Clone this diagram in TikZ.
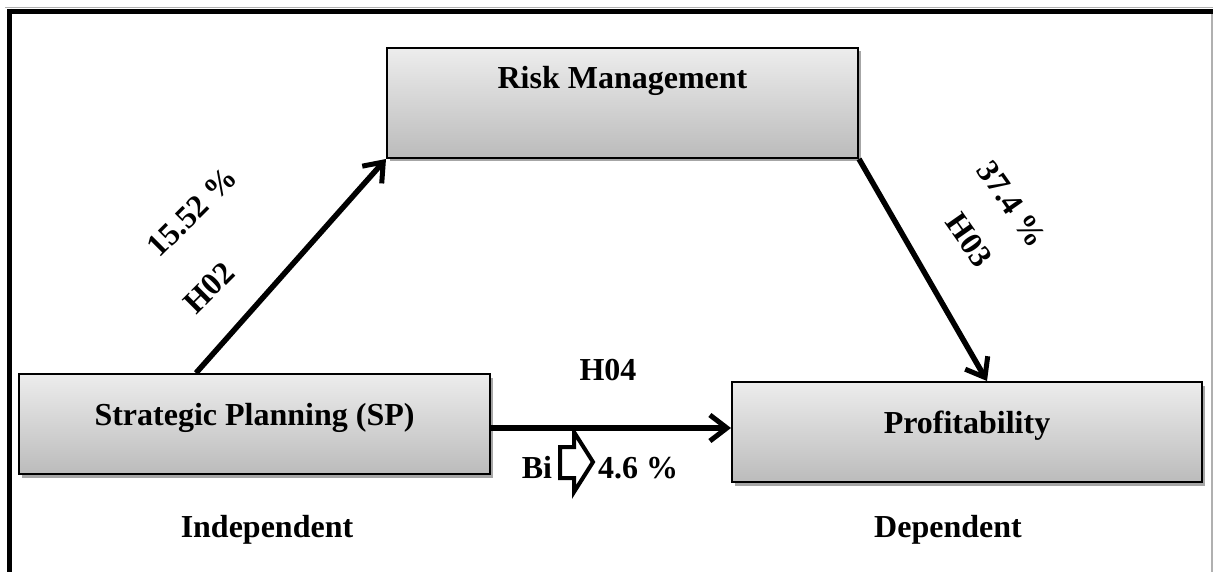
\documentclass[tikz,border=0pt]{standalone}
\usepackage{fontspec}
\setmainfont{Liberation Serif}
\usetikzlibrary{arrows.meta,shadows,calc}
\definecolor{boxtop}{HTML}{EDEDED}
\definecolor{boxbot}{HTML}{BBBBBB}
\definecolor{framegray}{HTML}{B0B0B0}
\newcommand{\bigfont}{\fontsize{32}{38}\selectfont\bfseries}
\begin{document}
\begin{tikzpicture}[x=1pt,y=-1pt,
  box/.style={draw=black, line width=2pt, rectangle, top color=boxtop, bottom color=boxbot,
    drop shadow={shadow xshift=3pt, shadow yshift=-3.5pt, opacity=0.35, fill=black},
    font=\bigfont, inner sep=0pt, text height=20pt},
  lbl/.style={font=\bigfont, inner sep=0pt},
  link/.style={line width=5.5pt, -{Straight Barb[length=17pt,width=26pt,line width=5pt]}}
]
\useasboundingbox (0,0) rectangle (1213,572);
% frame
\draw[framegray, line width=1pt] (5,7.8) -- (1213,7.8);
\draw[framegray, line width=1.5pt] (1212,14) -- (1212,572);
\draw[black, line width=5.5pt] (7,11.5) -- (1213,11.5);
\draw[black, line width=4.5pt] (9.3,9) -- (9.3,572);
% boxes
\node[box, minimum width=471pt, minimum height=110pt, text depth=48pt] (rm) at (622.5,103) {Risk Management};
\node[box, minimum width=471pt, minimum height=100pt, text depth=18pt] (sp) at (254.5,424) {Strategic Planning (SP)};
\node[box, minimum width=470pt, minimum height=100pt, text depth=18pt] (prof) at (967,432) {Profitability};
% connectors
\draw[link] ($(sp.north west)+(178,0)$) -- (rm.south west);
\draw[link] (rm.south east) -- ($(prof.north west)+(256,0)$);
\coordinate (h04start) at ($(sp.east)+(0,4)$);
\draw[link] (h04start) -- (h04start -| prof.west);
% block arrow symbol
\draw[line width=4pt, line join=miter] (560,447) -- (574,447) -- (574,432) -- (593,462) -- (574,492) -- (574,478) -- (560,478) -- cycle;
% labels
\node[lbl, anchor=base] (h04) at (608,380) {H04};
\node[lbl, anchor=base] (bi) at (537,478) {Bi};
\node[lbl, anchor=base] (pct46) at (638,478) {4.6 \%};
\node[lbl, rotate=45] (p1552) at (192,212) {15.52 \%};
\node[lbl, rotate=45] (h02) at (209,288) {H02};
\node[lbl, rotate=-55] (p374) at (1012,204) {37.4 \%};
\node[lbl, rotate=-55] (h03) at (969,240) {H03};
\node[lbl, anchor=base] (indep) at (267,537) {Independent};
\node[lbl, anchor=base] (dep) at (948,537) {Dependent};
\end{tikzpicture}
\end{document}
